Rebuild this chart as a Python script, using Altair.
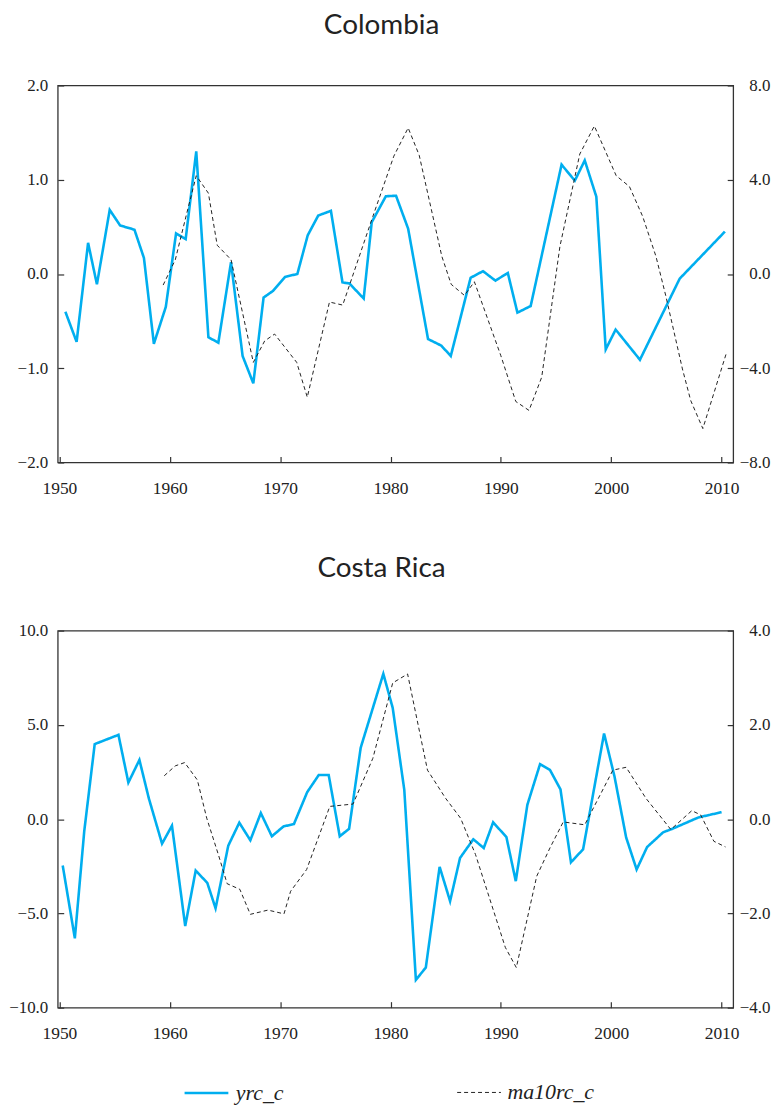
import altair as alt
import pandas as pd

# ---------------- data ----------------
col_y_years = [1950.54, 1951.56, 1952.6, 1953.4, 1954.56, 1955.5, 1956.8, 1957.66, 1958.56, 1959.64,
               1960.57, 1961.44, 1962.4, 1963.5, 1964.4, 1965.55, 1966.6, 1967.57, 1968.5, 1969.35,
               1970.45, 1971.56, 1972.5, 1973.45, 1974.6, 1975.65, 1976.27, 1977.57, 1978.3, 1979.58,
               1980.5, 1981.6, 1983.4, 1984.6, 1985.46, 1987.26, 1988.38, 1989.5, 1990.63, 1991.5,
               1992.7, 1995.5, 1996.7, 1997.6, 1998.65, 1999.5, 2000.4, 2002.6, 2006.2, 2010.3]
col_y_vals = [-0.40, -0.72, 0.33, -0.11, 0.68, 0.515, 0.47, 0.17, -0.74, -0.35,
              0.43, 0.37, 1.30, -0.67, -0.73, 0.125, -0.87, -1.16, -0.25, -0.18,
              -0.03, 0.0, 0.41, 0.62, 0.67, -0.09, -0.10, -0.26, 0.55, 0.825,
              0.83, 0.48, -0.69, -0.76, -0.87, -0.04, 0.03, -0.07, 0.01, -0.41,
              -0.34, 1.16, 0.99, 1.205, 0.82, -0.80, -0.59, -0.91, -0.05, 0.45]

col_m_years = [1959.4, 1960.5, 1961.5, 1962.4, 1963.5, 1964.3, 1965.55, 1967.57, 1968.6, 1969.5,
               1971.5, 1972.46, 1974.47, 1975.67, 1978.4, 1980.3, 1981.6, 1982.6, 1984.65, 1985.5,
               1986.7, 1987.6, 1990.0, 1991.35, 1992.55, 1993.7, 1995.35, 1997.15, 1998.47, 2000.45,
               2001.65, 2002.85, 2004.05, 2004.95, 2006.45, 2007.2, 2008.3, 2010.45]
col_m_vals = [-0.47, 0.6, 2.5, 4.17, 3.43, 1.22, 0.61, -3.75, -2.84, -2.55,
              -3.75, -5.23, -1.19, -1.32, 2.44, 5.0, 6.2, 5.04, 0.75, -0.44,
              -0.91, -0.33, -3.47, -5.41, -5.79, -4.38, 1.17, 5.09, 6.28, 4.17,
              3.71, 2.44, 0.75, -0.94, -4.03, -5.37, -6.56, -3.33]

cr_y_years = [1950.3, 1951.4, 1952.25, 1953.2, 1955.35, 1956.25, 1957.25, 1958.1, 1959.3, 1960.2,
              1961.4, 1962.35, 1963.4, 1964.15, 1965.3, 1966.3, 1967.3, 1968.25, 1969.25, 1970.3,
              1971.25, 1972.45, 1973.5, 1974.4, 1975.4, 1976.25, 1977.3, 1979.35, 1980.2, 1981.25,
              1982.3, 1983.2, 1984.45, 1985.4, 1986.3, 1987.5, 1988.45, 1989.3, 1990.5, 1991.35,
              1992.4, 1993.55, 1994.45, 1995.4, 1996.35, 1997.45, 1999.35, 2000.3, 2001.35, 2002.3,
              2003.25, 2004.7, 2005.55, 2007.9, 2010.0]
cr_y_vals = [-2.46, -6.32, -0.65, 3.98, 4.47, 1.94, 3.14, 1.11, -1.30, -0.35,
             -5.67, -2.73, -3.38, -4.73, -1.41, -0.19, -1.12, 0.32, -0.91, -0.39,
             -0.26, 1.43, 2.34, 2.34, -0.91, -0.51, 3.79, 7.71, 5.90, 1.55,
             -8.53, -7.87, -2.53, -4.35, -2.06, -1.07, -1.53, -0.17, -0.95, -3.29,
             0.76, 2.92, 2.61, 1.58, -2.29, -1.60, 4.54, 2.25, -0.97, -2.67,
             -1.48, -0.70, -0.51, 0.09, 0.37]

cr_m_years = [1959.5, 1960.5, 1961.35, 1962.5, 1963.35, 1964.4, 1965.2, 1966.35, 1967.3, 1968.9,
              1970.35, 1970.95, 1972.4, 1974.5, 1976.6, 1978.4, 1980.2, 1981.55, 1983.35, 1985.0,
              1986.35, 1987.7, 1990.4, 1991.4, 1993.25, 1994.45, 1995.65, 1997.6, 2000.15, 2001.35,
              2003.15, 2005.4, 2007.3, 2008.1, 2009.3, 2010.35]
cr_m_vals = [0.92, 1.13, 1.20, 0.83, 0.02, -0.75, -1.37, -1.49, -2.02, -1.93,
             -2.01, -1.53, -1.07, 0.27, 0.32, 1.29, 2.89, 3.08, 1.04, 0.44,
             0.02, -0.75, -2.72, -3.15, -1.21, -0.61, -0.06, -0.12, 1.04, 1.10,
             0.44, -0.22, 0.18, 0.09, -0.47, -0.59]

x_ticks = [1950, 1960, 1970, 1980, 1990, 2000, 2010]
col_left_ticks = [-2, -1, 0, 1, 2]
col_right_ticks = [-8, -4, 0, 4, 8]
cr_left_ticks = [-10, -5, 0, 5, 10]
cr_right_ticks = [-4, -2, 0, 2, 4]
series_names = ["yrc_c", "ma10rc_c"]

# ---------------- style ----------------
BLUE = "#00aeef"
DARK = "#222222"
SERIF = "Liberation Serif"
W, H = 679, 379
TICK = 6

LEGEND = alt.Legend(title=None, orient="none", legendX=126, legendY=989,
                    direction="horizontal", symbolType="stroke", symbolSize=1936,
                    labelFont=SERIF, labelFontStyle="italic", labelFontSize=22,
                    labelColor=DARK, columnPadding=171, labelOffset=6, padding=0)


def panel(title, y_years, y_vals, m_years, m_vals, ldom, lticks, rdom, rticks, title_offset):
    d1 = pd.DataFrame({"year": y_years, "value": y_vals, "series": series_names[0]})
    d2 = pd.DataFrame({"year": m_years, "value": m_vals, "series": series_names[1]})
    x = alt.X("year:Q",
              scale=alt.Scale(domain=[1949.85, 2011.05], nice=False, zero=False),
              axis=alt.Axis(values=x_ticks, format="d", title=None, orient="bottom",
                            offset=-TICK, tickSize=TICK, domain=False, grid=False,
                            labelPadding=17, labelFlush=False, labelFontSize=17.5))
    color = alt.Color("series:N", scale=alt.Scale(domain=series_names, range=[BLUE, DARK]), legend=LEGEND)
    dash = alt.StrokeDash("series:N", scale=alt.Scale(domain=series_names, range=[[1, 0], [4, 3]]), legend=LEGEND)
    sw = alt.StrokeWidth("series:N", scale=alt.Scale(domain=series_names, range=[2.6, 1.0]), legend=LEGEND)
    l1 = alt.Chart(d1).mark_line().encode(
        x=x,
        y=alt.Y("value:Q", scale=alt.Scale(domain=ldom, nice=False, zero=False),
                axis=alt.Axis(orient="left", values=lticks, format=".1f", title=None,
                              offset=-TICK, tickSize=TICK, domain=False, grid=False,
                              labelPadding=10)),
        color=color, strokeDash=dash, strokeWidth=sw)
    l2 = alt.Chart(d2).mark_line().encode(
        x=x,
        y=alt.Y("value:Q", scale=alt.Scale(domain=rdom, nice=False, zero=False),
                axis=alt.Axis(orient="right", values=rticks, format=".1f", title=None,
                              offset=-TICK, tickSize=TICK, domain=False, grid=False,
                              labelAlign="right", labelPadding=37)),
        color=color, strokeDash=dash, strokeWidth=sw)
    return alt.layer(l1, l2).resolve_scale(y="independent").properties(
        width=W, height=H,
        title=alt.TitleParams(title, font="Lato", fontSize=28, fontWeight="normal",
                              color=DARK, offset=title_offset, anchor="middle", dx=-14))


top = panel("Colombia", col_y_years, col_y_vals, col_m_years, col_m_vals,
            [-2, 2], col_left_ticks, [-8, 8], col_right_ticks, 37)
bottom = panel("Costa Rica", cr_y_years, cr_y_vals, cr_m_years, cr_m_vals,
               [-10, 10], cr_left_ticks, [-4, 4], cr_right_ticks, 39)

chart = alt.vconcat(top, bottom, spacing=56).resolve_scale(
    color="shared", strokeDash="shared", strokeWidth="shared"
).resolve_legend(
    color="shared", strokeDash="shared", strokeWidth="shared"
).properties(
    padding={"left": 0, "top": 0, "right": 0, "bottom": 0},
    background="white",
).configure_view(
    stroke="#333333", strokeWidth=1.3
).configure_axis(
    labelFont=SERIF, labelFontSize=17, labelColor=DARK,
    tickColor="#333333", tickWidth=1.2,
).configure_legend(
    labelFont=SERIF, labelFontStyle="italic"
)

chart.save("out.html", embed_options={"renderer": "svg", "actions": False})
